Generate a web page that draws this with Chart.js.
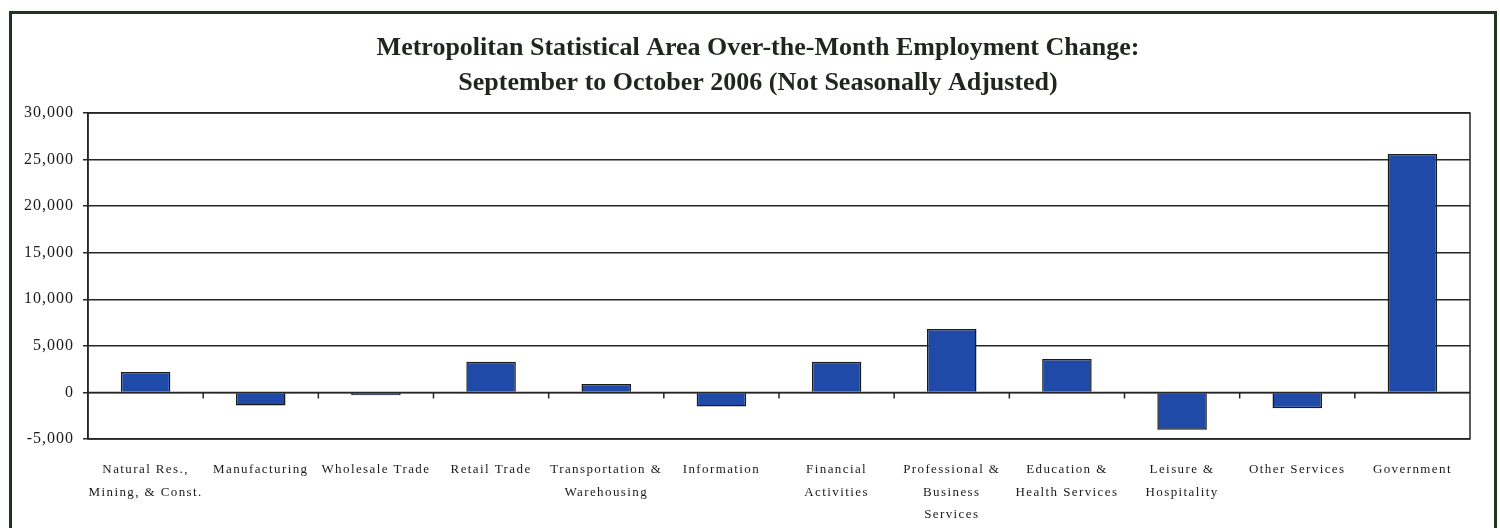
<!DOCTYPE html>
<html>
<head>
<meta charset="utf-8">
<script src="https://cdn.jsdelivr.net/npm/chart.js@4.4.1/dist/chart.umd.min.js"></script>
<style>
  html, body { margin: 0; padding: 0; background: #fff; overflow: hidden; }
  #wrap { position: relative; width: 1500px; height: 528px; }
  #frame { position: absolute; left: 9px; top: 11px; width: 1488px; height: 600px;
           border: 3px solid #223322; box-sizing: border-box; }
  canvas { position: absolute; left: 0; top: 0; }
</style>
</head>
<body>
<div id="wrap">
  <div id="frame"></div>
  <canvas id="c" width="1500" height="528"></canvas>
</div>
<script>
const titleLines = [
  'Metropolitan Statistical Area Over-the-Month Employment Change:',
  'September to October 2006 (Not Seasonally Adjusted)'
];
const categories = [
  ['Natural Res.,', 'Mining, & Const.'],
  'Manufacturing',
  'Wholesale Trade',
  'Retail Trade',
  ['Transportation &', 'Warehousing'],
  'Information',
  ['Financial', 'Activities'],
  ['Professional &', 'Business', 'Services'],
  ['Education &', 'Health Services'],
  ['Leisure &', 'Hospitality'],
  'Other Services',
  'Government'
];
const employmentChange = [2200, -1400, -300, 3300, 900, -1500, 3300, 6800, 3600, -4000, -1700, 25600];
const yMin = -5000, yMax = 30000, yStep = 5000;

const spacingPlugin = {
  id: 'spacing',
  beforeDraw(chart) {
    ['x', 'y'].forEach(id => {
      const s = chart.scales[id];
      if (s && !s._patched) {
        const orig = s.drawLabels.bind(s);
        s.drawLabels = function (area) {
          const ctx = this.ctx;
          const prev = ctx.letterSpacing;
          ctx.letterSpacing = id === 'x' ? '1.4px' : '1px';
          orig(area);
          ctx.letterSpacing = prev;
        };
        s._patched = true;
      }
    });
  }
};

const titlePlugin = {
  id: 'centeredTitle',
  afterDraw(chart) {
    const ctx = chart.ctx;
    ctx.save();
    ctx.fillStyle = '#1e261e';
    ctx.font = 'bold 26px "Liberation Serif"';
    ctx.textAlign = 'center';
    ctx.textBaseline = 'middle';
    titleLines.forEach((t, i) => ctx.fillText(t, 758, 48 + i * 35));
    ctx.restore();
  }
};

const framePlugin = {
  id: 'plotFrame',
  afterDatasetsDraw(chart) {
    const { ctx, chartArea: a, scales } = chart;
    ctx.save();
    ctx.strokeStyle = '#262626';
    ctx.lineWidth = 1.5;
    ctx.strokeRect(a.left, a.top, a.right - a.left, a.bottom - a.top);
    const y0 = scales.y.getPixelForValue(0);
    ctx.beginPath();
    ctx.moveTo(a.left, y0);
    ctx.lineTo(a.right, y0);
    for (let i = 1; i < categories.length; i++) {
      const xb = (scales.x.getPixelForValue(i - 1) + scales.x.getPixelForValue(i)) / 2;
      ctx.moveTo(xb, y0);
      ctx.lineTo(xb, y0 + 6);
    }
    ctx.stroke();
    ctx.restore();
  }
};

new Chart(document.getElementById('c'), {
  type: 'bar',
  data: {
    labels: categories,
    datasets: [{
      data: employmentChange,
      backgroundColor: '#1f4aa8',
      borderColor: '#1a1a1a',
      borderWidth: 1.5,
      borderSkipped: 'start',
      categoryPercentage: 1,
      barPercentage: 0.43
    }]
  },
  options: {
    responsive: false,
    devicePixelRatio: 1,
    animation: false,
    layout: { padding: { left: 0, right: 30, top: 113, bottom: 0 } },
    plugins: {
      legend: { display: false },
      tooltip: { enabled: false },
      title: { display: false }
    },
    scales: {
      x: {
        grid: { display: false },
        border: { display: false },
        ticks: {
          color: '#1a1a1a',
          font: { family: 'Liberation Serif', size: 13, lineHeight: 1.7 },
          padding: 12,
          maxRotation: 0,
          autoSkip: false
        },
        afterFit(s) { s.height = 89; }
      },
      y: {
        min: yMin,
        max: yMax,
        grid: { color: '#262626', lineWidth: 1.5, tickLength: 5, drawTicks: true },
        border: { display: true, color: '#262626', width: 1.5 },
        ticks: {
          stepSize: yStep,
          color: '#1a1a1a',
          padding: 9,
          font: { family: 'Liberation Serif', size: 16 },
          callback: v => v.toLocaleString('en-US')
        },
        afterFit(s) { s.width = 88; }
      }
    }
  },
  plugins: [spacingPlugin, framePlugin, titlePlugin]
});
</script>
</body>
</html>
